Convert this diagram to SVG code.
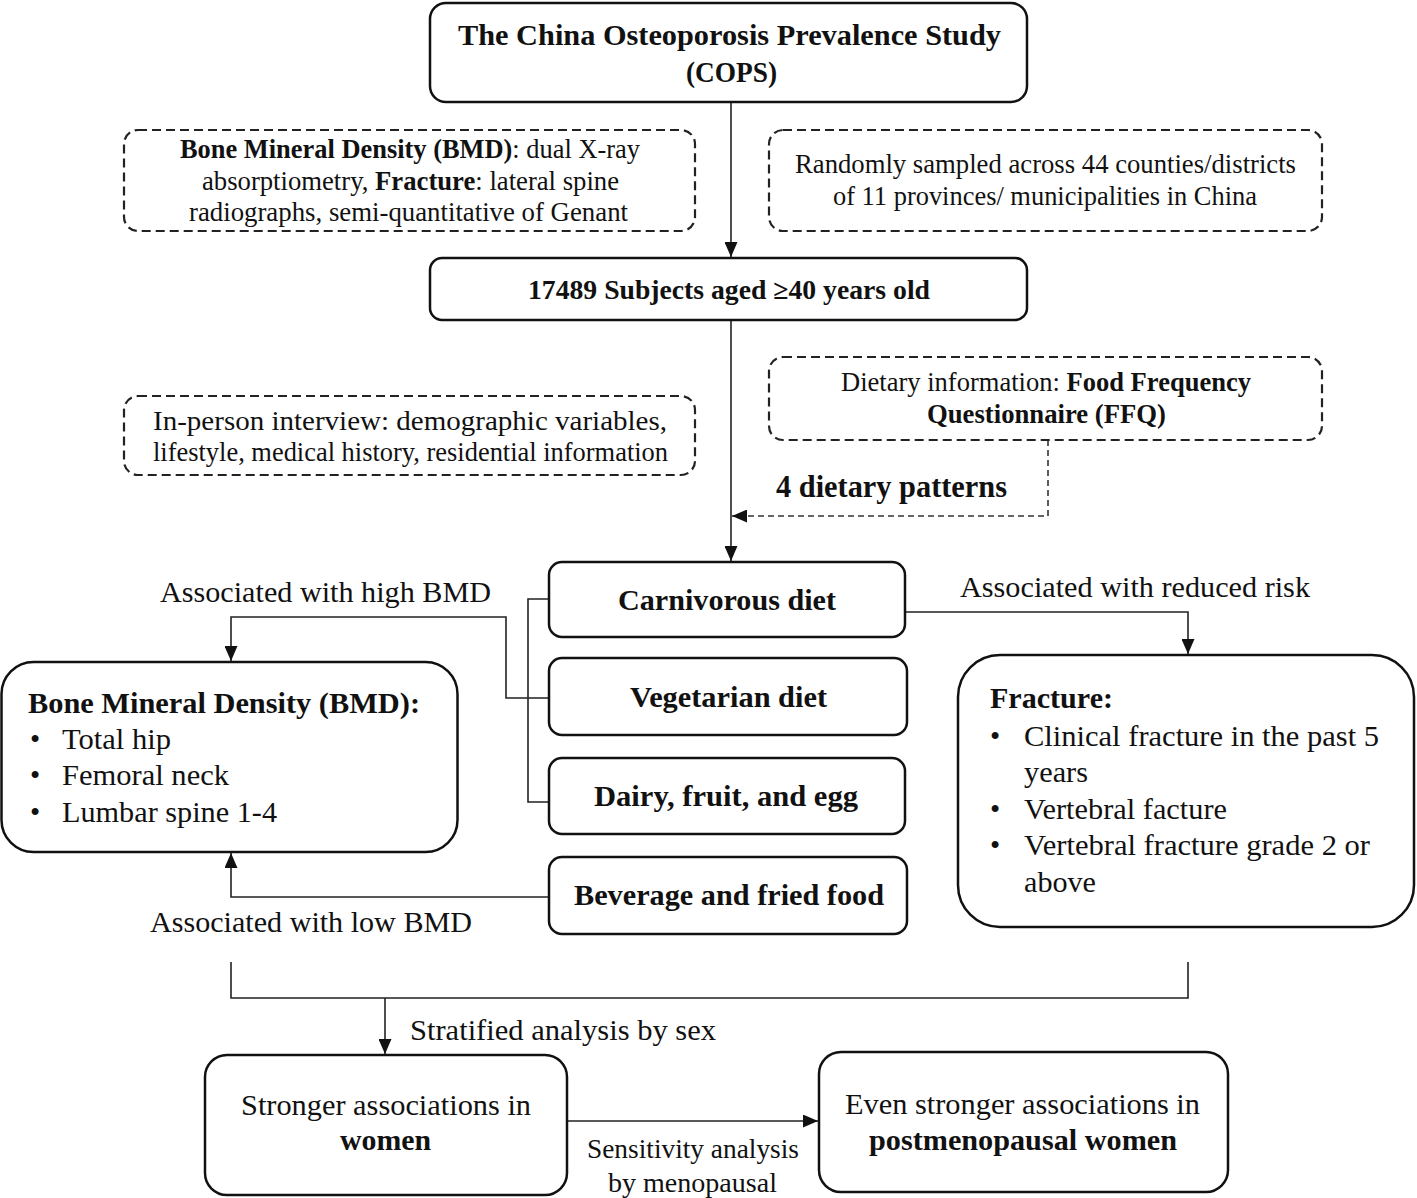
<svg xmlns="http://www.w3.org/2000/svg" width="1417" height="1198" viewBox="0 0 1417 1198" font-family="'Liberation Serif', 'Times New Roman', serif">
<style>
text{font-family:'Liberation Serif','Times New Roman',serif;font-size:29px;fill:#111}
.b{font-weight:bold}
.box{fill:#fff;stroke:#111;stroke-width:2.5}
.dbox{fill:#fff;stroke:#222;stroke-width:2.2;stroke-dasharray:9 5}
.ln{fill:none;stroke:#222;stroke-width:1.6}
.dl{fill:none;stroke:#333;stroke-width:1.6;stroke-dasharray:6 4}
.c{text-anchor:middle}
</style>
<defs>
<marker id="ah" viewBox="0 0 10 10" refX="10" refY="5" markerWidth="15" markerHeight="13" markerUnits="userSpaceOnUse" orient="auto" preserveAspectRatio="none"><path d="M0,0 L10,5 L0,10 z" fill="#111"/></marker>
</defs>
<rect width="1417" height="1198" fill="#fff"/>
<g id="connectors">
<path class="ln" d="M731,102 V257" marker-end="url(#ah)"/>
<path class="ln" d="M731,320 V561" marker-end="url(#ah)"/>
<path class="dl" d="M1048,440 V516 H732" marker-end="url(#ah)"/>
<path class="ln" d="M549,599 H528 V802 H549"/>
<path class="ln" d="M549,698 H506 V617 H231 V661" marker-end="url(#ah)"/>
<path class="ln" d="M549,897 H231 V853" marker-end="url(#ah)"/>
<path class="ln" d="M905,612 H1188 V654" marker-end="url(#ah)"/>
<path class="ln" d="M231,962 V998 H1188 V962"/>
<path class="ln" d="M385,998 V1054" marker-end="url(#ah)"/>
<path class="ln" d="M567,1121 H818" marker-end="url(#ah)"/>
<text x="325.5" y="602" class="c" textLength="331" lengthAdjust="spacingAndGlyphs">Associated with high BMD</text>
<text x="311" y="932" class="c" textLength="322" lengthAdjust="spacingAndGlyphs">Associated with low BMD</text>
<text x="1135" y="597" class="c" textLength="350" lengthAdjust="spacingAndGlyphs">Associated with reduced risk</text>
<text x="891.5" y="497" class="c b" textLength="231" lengthAdjust="spacingAndGlyphs" style="font-size:31px">4 dietary patterns</text>
<text x="563" y="1040" class="c" textLength="306" lengthAdjust="spacingAndGlyphs">Stratified analysis by sex</text>
<text x="693" y="1158" class="c" textLength="212" lengthAdjust="spacingAndGlyphs" style="font-size:27px">Sensitivity analysis</text>
<text x="692.5" y="1192" class="c" textLength="169" lengthAdjust="spacingAndGlyphs" style="font-size:27px">by menopausal</text>
</g>
<g id="cops">
<rect class="box" x="430" y="3" width="597" height="99" rx="16"/>
<text x="729.5" y="45" class="c b" textLength="543" lengthAdjust="spacingAndGlyphs" style="font-size:30px">The China Osteoporosis Prevalence Study</text>
<text x="731.5" y="82" class="c b" textLength="91" lengthAdjust="spacingAndGlyphs" style="font-size:30px">(COPS)</text>
</g>
<g id="measures">
<rect class="dbox" x="124" y="130" width="571" height="101" rx="14"/>
<text x="410" y="158" class="c" textLength="460" lengthAdjust="spacingAndGlyphs" style="font-size:27px"><tspan class="b">Bone Mineral Density (BMD)</tspan>: dual X-ray</text>
<text x="410.5" y="190" class="c" textLength="417" lengthAdjust="spacingAndGlyphs" style="font-size:27px">absorptiometry, <tspan class="b">Fracture</tspan>: lateral spine</text>
<text x="408.5" y="221" class="c" textLength="439" lengthAdjust="spacingAndGlyphs" style="font-size:27px">radiographs, semi-quantitative of Genant</text>
</g>
<g id="sampling">
<rect class="dbox" x="769" y="130" width="553" height="101" rx="14"/>
<text x="1045.5" y="173" class="c" textLength="501" lengthAdjust="spacingAndGlyphs" style="font-size:27px">Randomly sampled across 44 counties/districts</text>
<text x="1045" y="205" class="c" textLength="424" lengthAdjust="spacingAndGlyphs" style="font-size:27px">of 11 provinces/ municipalities in China</text>
</g>
<g id="subjects">
<rect class="box" x="430" y="258" width="597" height="62" rx="12"/>
<text x="729" y="299" class="c b" textLength="402" lengthAdjust="spacingAndGlyphs" style="font-size:27px">17489 Subjects aged ≥40 years old</text>
</g>
<g id="dietary">
<rect class="dbox" x="769" y="357" width="553" height="83" rx="14"/>
<text x="1046" y="391" class="c" textLength="410" lengthAdjust="spacingAndGlyphs" style="font-size:27px">Dietary information:  <tspan class="b">Food Frequency</tspan></text>
<text x="1046.5" y="423" class="c b" textLength="239" lengthAdjust="spacingAndGlyphs" style="font-size:27px">Questionnaire (FFQ)</text>
</g>
<g id="interview">
<rect class="dbox" x="124" y="396" width="571" height="79" rx="14"/>
<text x="410" y="430" class="c" textLength="514" lengthAdjust="spacingAndGlyphs" style="font-size:27px">In-person interview: demographic variables,</text>
<text x="410.5" y="461" class="c" textLength="515" lengthAdjust="spacingAndGlyphs" style="font-size:27px">lifestyle, medical history, residential information</text>
</g>
<g id="carnivorous">
<rect class="box" x="549" y="562" width="356" height="75" rx="13"/>
<text x="727" y="610" class="c b" textLength="218" lengthAdjust="spacingAndGlyphs">Carnivorous diet</text>
</g>
<g id="vegetarian">
<rect class="box" x="549" y="658" width="358" height="77" rx="13"/>
<text x="728.5" y="707" class="c b" textLength="197" lengthAdjust="spacingAndGlyphs">Vegetarian diet</text>
</g>
<g id="dairy">
<rect class="box" x="549" y="758" width="356" height="76" rx="13"/>
<text x="726" y="806" class="c b" textLength="264" lengthAdjust="spacingAndGlyphs">Dairy, fruit, and egg</text>
</g>
<g id="beverage">
<rect class="box" x="549" y="857" width="358" height="77" rx="13"/>
<text x="729" y="905" class="c b" textLength="310" lengthAdjust="spacingAndGlyphs">Beverage and fried food</text>
</g>
<g id="bmd">
<rect class="box" x="1.5" y="662" width="456" height="190" rx="32"/>
<text x="28" y="713" class="b" textLength="392" lengthAdjust="spacingAndGlyphs">Bone Mineral Density (BMD):</text>
<text x="30" y="749">•</text><text x="62" y="749" textLength="109" lengthAdjust="spacingAndGlyphs">Total hip</text>
<text x="30" y="785">•</text><text x="62" y="785" textLength="167" lengthAdjust="spacingAndGlyphs">Femoral neck</text>
<text x="30" y="822">•</text><text x="62" y="822" textLength="215" lengthAdjust="spacingAndGlyphs">Lumbar spine 1-4</text>
</g>
<g id="fracture">
<rect class="box" x="958" y="655" width="456" height="272" rx="42"/>
<text x="990" y="708" class="b" textLength="123" lengthAdjust="spacingAndGlyphs">Fracture:</text>
<text x="990" y="746">•</text><text x="1024" y="746" textLength="355" lengthAdjust="spacingAndGlyphs">Clinical  fracture in the past 5</text>
<text x="1024" y="782" textLength="64" lengthAdjust="spacingAndGlyphs">years</text>
<text x="990" y="819">•</text><text x="1024" y="819" textLength="203" lengthAdjust="spacingAndGlyphs">Vertebral  facture</text>
<text x="990" y="855">•</text><text x="1024" y="855" textLength="346" lengthAdjust="spacingAndGlyphs">Vertebral  fracture  grade 2 or</text>
<text x="1024" y="892" textLength="72" lengthAdjust="spacingAndGlyphs">above</text>
</g>
<g id="women">
<rect class="box" x="205" y="1055" width="362" height="140" rx="22"/>
<text x="386" y="1115" class="c" textLength="290" lengthAdjust="spacingAndGlyphs" style="font-size:30px">Stronger associations in</text>
<text x="385.5" y="1150" class="c b" textLength="91" lengthAdjust="spacingAndGlyphs" style="font-size:30px">women</text>
</g>
<g id="postmenopausal">
<rect class="box" x="819" y="1052" width="409" height="140" rx="22"/>
<text x="1022.5" y="1114" class="c" textLength="355" lengthAdjust="spacingAndGlyphs" style="font-size:30px">Even stronger associations in</text>
<text x="1023" y="1150" class="c b" textLength="308" lengthAdjust="spacingAndGlyphs" style="font-size:30px">postmenopausal women</text>
</g>
</svg>
